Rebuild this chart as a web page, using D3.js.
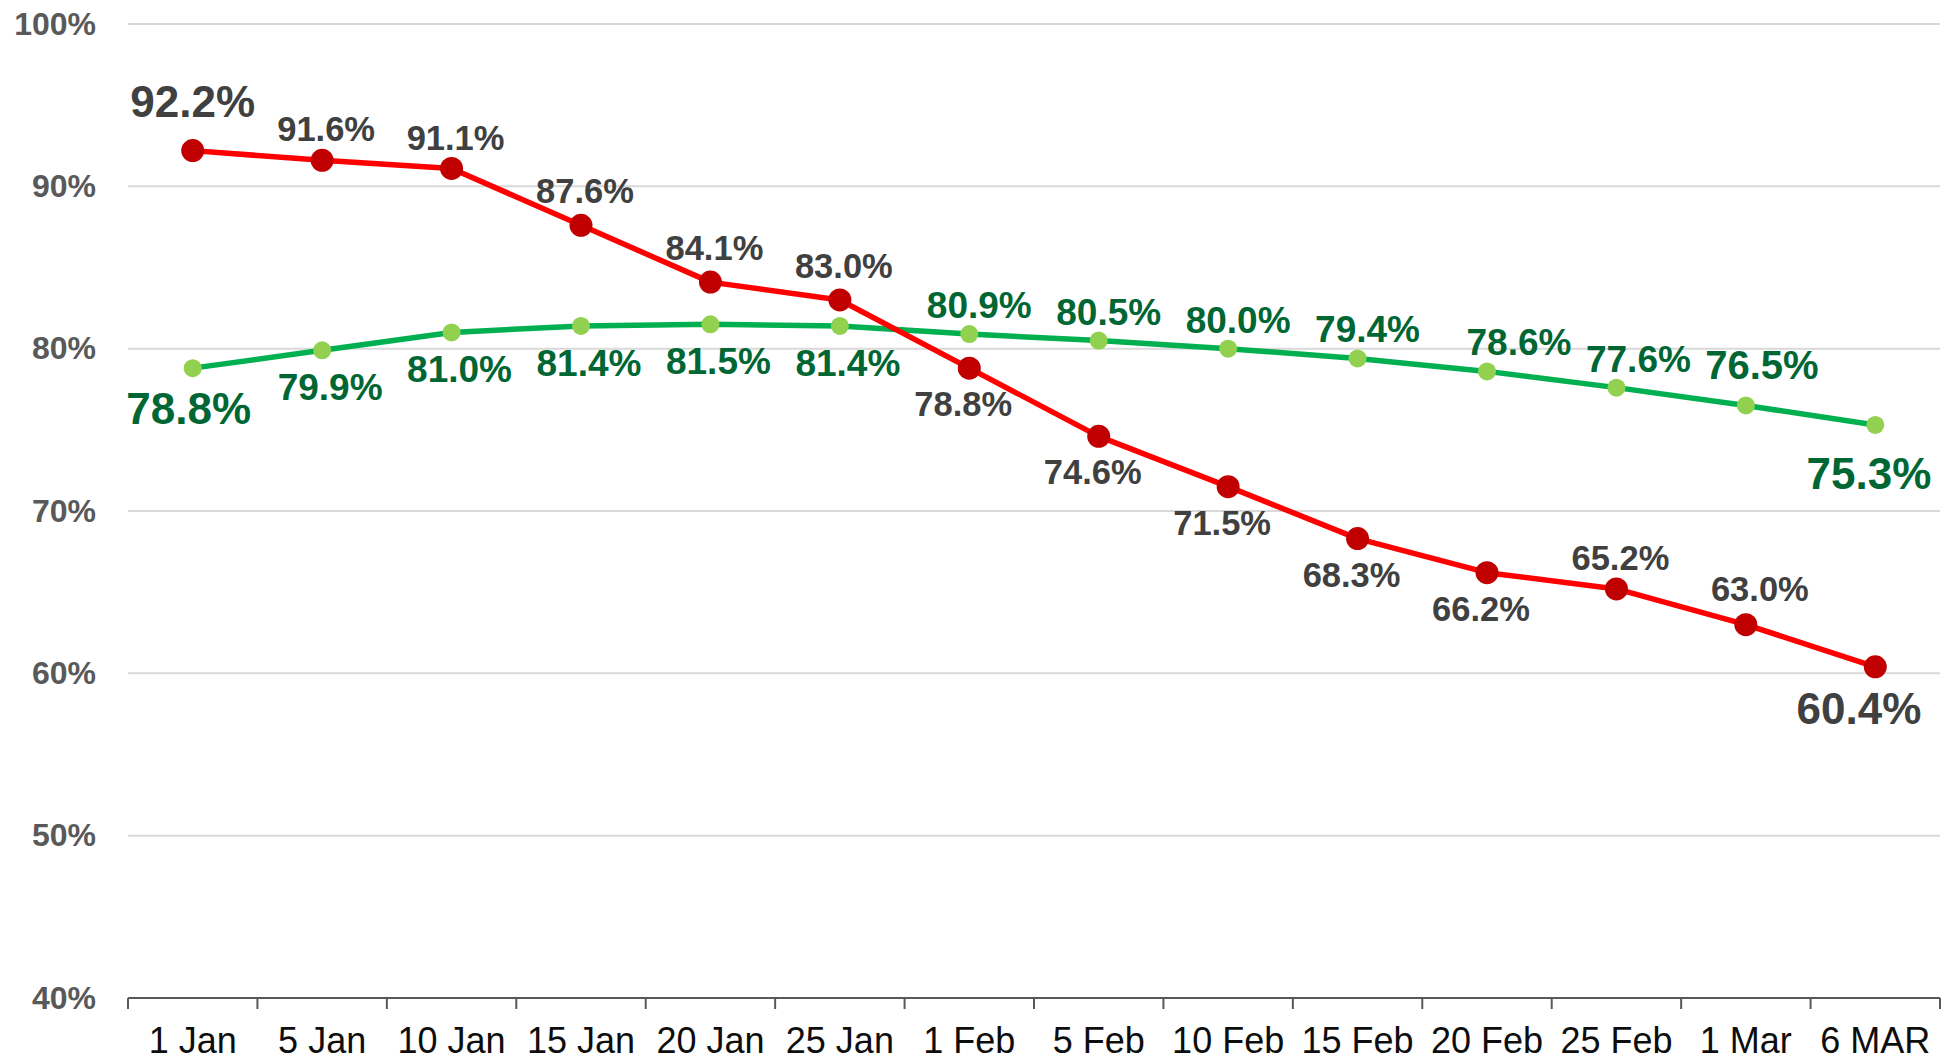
<!DOCTYPE html>
<html>
<head>
<meta charset="utf-8">
<script src="https://cdn.jsdelivr.net/npm/d3@7"></script>
<style>
  html, body { margin: 0; padding: 0; background: #ffffff; }
  svg { display: block; }
  text { font-family: "Liberation Sans", Arial, sans-serif; }
</style>
</head>
<body>
<svg id="chart" width="1948" height="1061"></svg>
<script>
// ---- data ----
const categories = ["1 Jan", "5 Jan", "10 Jan", "15 Jan", "20 Jan", "25 Jan", "1 Feb", "5 Feb", "10 Feb", "15 Feb", "20 Feb", "25 Feb", "1 Mar", "6 MAR"];
const redValues = [92.2, 91.6, 91.1, 87.6, 84.1, 83.0, 78.8, 74.6, 71.5, 68.3, 66.2, 65.2, 63.0, 60.4];
const greenValues = [78.8, 79.9, 81.0, 81.4, 81.5, 81.4, 80.9, 80.5, 80.0, 79.4, 78.6, 77.6, 76.5, 75.3];
const yTicks = [40, 50, 60, 70, 80, 90, 100];
// label placement relative to the point
const redPlacement = ["above", "above", "above", "above", "above", "above", "below", "below", "below", "below", "below", "above", "above", "below"];
const greenPlacement = ["below", "below", "below", "below", "below", "below", "above", "above", "above", "above", "above", "above", "above", "below"];

// ---- layout ----
const svg = d3.select("#chart");
const plotLeft = 128, plotRight = 1940, plotTop = 24, plotBottom = 998;
const FONT = "'Liberation Sans', Arial, sans-serif";

const x = d3.scaleBand().domain(categories).range([plotLeft, plotRight]).paddingInner(0).paddingOuter(0);
const y = d3.scaleLinear().domain([40, 100]).range([plotBottom, plotTop]);
const cx = c => x(c) + x.bandwidth() / 2;

// gridlines
svg.append("g").selectAll("line")
  .data(yTicks.filter(t => t !== 40))
  .join("line")
  .attr("x1", plotLeft).attr("x2", plotRight)
  .attr("y1", d => y(d)).attr("y2", d => y(d))
  .attr("stroke", "#d9d9d9").attr("stroke-width", 2);

// y axis labels
const yAxis = d3.axisLeft(y).tickValues(yTicks).tickFormat(d => d + "%").tickSize(0).tickPadding(0);
const gy = svg.append("g").attr("transform", `translate(${plotLeft - 32},0)`).call(yAxis);
gy.select(".domain").remove();
gy.selectAll("text")
  .attr("font-family", FONT)
  .attr("font-size", 32).attr("font-weight", "bold").attr("fill", "#595959");

// x axis
const xAxis = d3.axisBottom(x).tickSize(0).tickPadding(0);
const gx = svg.append("g").attr("transform", `translate(0,${plotBottom})`).call(xAxis);
gx.select(".domain").remove();
gx.selectAll("text")
  .attr("font-family", FONT)
  .attr("font-size", 36).attr("fill", "#0d0d0d")
  .attr("dy", null).attr("y", 55);
svg.append("line")
  .attr("x1", plotLeft).attr("x2", plotRight).attr("y1", plotBottom).attr("y2", plotBottom)
  .attr("stroke", "#595959").attr("stroke-width", 2);
svg.append("g").selectAll("line")
  .data(categories.map(c => x(c)).concat([x.range()[1]]))
  .join("line")
  .attr("x1", d => d).attr("x2", d => d)
  .attr("y1", plotBottom).attr("y2", plotBottom + 11)
  .attr("stroke", "#595959").attr("stroke-width", 2);

// lines
const lineGen = vals => d3.line().x((d, i) => cx(categories[i])).y(d => y(d))(vals);

svg.append("path").attr("d", lineGen(greenValues))
  .attr("fill", "none").attr("stroke", "#00b050").attr("stroke-width", 5.5).attr("stroke-linejoin", "round");
svg.append("path").attr("d", lineGen(redValues))
  .attr("fill", "none").attr("stroke", "#ff0000").attr("stroke-width", 5.5).attr("stroke-linejoin", "round");

svg.append("g").selectAll("circle").data(greenValues).join("circle")
  .attr("cx", (d, i) => cx(categories[i])).attr("cy", d => y(d)).attr("r", 9)
  .attr("fill", "#92d050");
svg.append("g").selectAll("circle").data(redValues).join("circle")
  .attr("cx", (d, i) => cx(categories[i])).attr("cy", d => y(d)).attr("r", 11.5)
  .attr("fill", "#c00000");

// labels: styling per series and placement; a few hand-nudged labels as in the original
const n = categories.length;
const labelStyle = {
  red:   { color: "#404040", size: 34.5, above: { dx: 4, dy: -22 }, below: { dx: -6, dy: 48 },
           first: { dx: 0, dy: -34 }, last: { dx: 46, dy: 57 } },
  green: { color: "#006633", size: 37, above: { dx: 10, dy: -16 }, below: { dx: 8, dy: 50 },
           first: { dx: -4, dy: 56 }, last: { dx: 56, dy: 64 } }
};
const nudges = {
  red: { 1: { dy: -19 }, 2: { dy: -18 }, 11: { dy: -19 }, 12: { dx: 14, dy: -24 } },
  green: { 10: { dx: 32 }, 11: { dx: 22 }, 12: { dx: 16, dy: -26, size: 40 } }
};

function drawLabels(key, vals, placement) {
  const st = labelStyle[key];
  const conf = i => {
    let c;
    if (i === 0) c = Object.assign({ size: 44 }, st.first);
    else if (i === n - 1) c = Object.assign({ size: 44 }, st.last);
    else c = Object.assign({ size: st.size }, st[placement[i]]);
    return Object.assign({}, c, nudges[key][i] || {});
  };
  svg.append("g").selectAll("text").data(vals).join("text")
    .text(d => d.toFixed(1) + "%")
    .attr("font-family", FONT)
    .attr("font-weight", "bold")
    .attr("fill", st.color)
    .attr("font-size", (d, i) => conf(i).size)
    .attr("text-anchor", (d, i) => i === n - 1 ? "end" : "middle")
    .attr("x", (d, i) => cx(categories[i]) + conf(i).dx)
    .attr("y", (d, i) => y(d) + conf(i).dy);
}
drawLabels("red", redValues, redPlacement);
drawLabels("green", greenValues, greenPlacement);
</script>
</body>
</html>
